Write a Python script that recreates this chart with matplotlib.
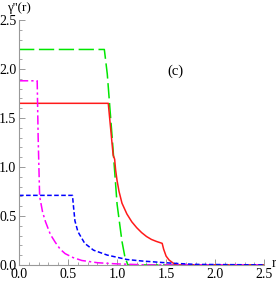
import matplotlib
matplotlib.use("Agg")
import matplotlib.pyplot as plt
from matplotlib.ticker import MultipleLocator

# values
r_green = [0, 0.87, 0.9, 0.95, 1.0, 1.05, 1.08, 1.11, 2.5]
y_green = [2.2, 2.2, 1.95, 1.3, 0.62, 0.24, 0.08, 0.0, 0.0]

r_red = [0, 0.91, 0.96, 0.975, 0.985, 1.0, 1.02, 1.05, 1.1, 1.15, 1.2, 1.25, 1.3,
         1.35, 1.4, 1.46, 1.475, 1.5, 1.53, 1.57, 1.6, 2.5]
y_red = [1.65, 1.65, 1.12, 1.08, 0.97, 0.86, 0.75, 0.63, 0.52, 0.44, 0.38, 0.33, 0.29,
         0.26, 0.24, 0.22, 0.16, 0.09, 0.05, 0.02, 0.0, 0.0]

r_magenta = [0, 0.185, 0.195, 0.21, 0.24, 0.27, 0.32, 0.37, 0.42, 0.47, 0.55, 0.64,
             0.8, 1.0, 1.3, 2.5]
y_magenta = [1.88, 1.88, 1.3, 0.7, 0.54, 0.44, 0.31, 0.23, 0.16, 0.115, 0.075, 0.045,
             0.022, 0.01, 0.0, 0.0]

r_blue = [0, 0.545, 0.555, 0.57, 0.6, 0.67, 0.76, 0.9, 1.1, 1.25, 1.45, 1.6, 1.8, 2.5]
y_blue = [0.71, 0.71, 0.6, 0.45, 0.34, 0.22, 0.15, 0.1, 0.055, 0.04, 0.025, 0.015, 0.005, 0.0]

plt.rcParams['font.family'] = ['Liberation Serif', 'DejaVu Serif']

fig = plt.figure(figsize=(2.76, 2.83), dpi=100)
ax = fig.add_axes([0.069, 0.064, 0.888, 0.865])

lw = 1.1
ax.plot(r_green, y_green, color='#00e600', lw=lw, dashes=(10, 3))
ax.plot(r_red, y_red, color='#ff1a1a', lw=lw)
ax.plot(r_magenta, y_magenta, color='#ff00ff', lw=lw, dashes=(6, 2, 1.5, 2))
ax.plot(r_blue, y_blue, color='#0000ff', lw=lw, dashes=(3, 1.6))

ax.set_xlim(0, 2.5)
ax.set_ylim(0, 2.5)
ax.xaxis.set_major_locator(MultipleLocator(0.5))
ax.xaxis.set_minor_locator(MultipleLocator(0.1))
ax.yaxis.set_major_locator(MultipleLocator(0.5))
ax.yaxis.set_minor_locator(MultipleLocator(0.1))
ax.xaxis.set_major_formatter(plt.FormatStrFormatter('%.1f'))
ax.yaxis.set_major_formatter(plt.FormatStrFormatter('%.1f'))

for s in ['top', 'right']:
    ax.spines[s].set_visible(False)
for s in ['left', 'bottom']:
    ax.spines[s].set_color('#999999')
    ax.spines[s].set_linewidth(0.8)
ax.tick_params(which='both', direction='in', color='#999999', labelsize=10, pad=2)
ax.tick_params(which='major', length=4, width=0.7)
ax.tick_params(which='minor', length=2, width=0.6)

ax.text(1.6, 1.98, '(c)', fontsize=10.5, ha='center', va='center')
fig.text(0.025, 0.97, "γ''(r)", fontsize=9.5, ha='left', va='center')
ax.text(1.03, 0.005, 'r', transform=ax.transAxes, fontsize=10, ha='left', va='center')

fig.savefig('out.png', dpi=100)
